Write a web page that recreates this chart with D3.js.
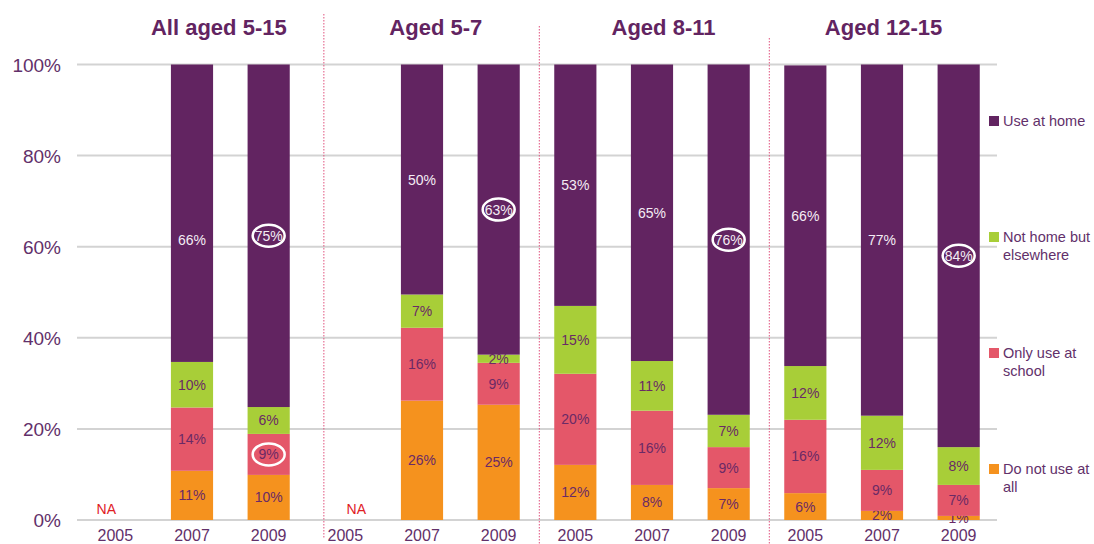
<!DOCTYPE html>
<html>
<head>
<meta charset="utf-8">
<script src="https://cdn.jsdelivr.net/npm/d3@7"></script>
<style>
  body { margin: 0; background: #fff; }
  text { font-family: "Liberation Sans", Arial, sans-serif; }
</style>
</head>
<body>
<div id="chart"></div>
<script>
"use strict"

// group headings and the year of every slot (4 groups x 3 years)
const groups = ["All aged 5-15", "Aged 5-7", "Aged 8-11", "Aged 12-15"];
const years = ["2005", "2007", "2009"];

// segment heights (null = NA)
const doNotUse   = [null, 10.8, 9.9, null, 26.2, 25.3, 12.1, 7.7, 7.0, 5.9, 2.0, 0.9];
const onlySchool = [null, 13.9, 9.0, null, 16.0, 9.2, 20.0, 16.3, 9.0, 16.1, 9.0, 6.8];
const notHome    = [null, 10.0, 5.9, null, 7.3, 1.8, 14.9, 10.9, 7.1, 11.8, 11.9, 8.3];
const useAtHome  = [null, 65.3, 75.2, null, 50.5, 63.7, 53.0, 65.1, 76.9, 66.0, 77.1, 84.0];

// printed labels
const doNotUseLbl   = [null, 11, 10, null, 26, 25, 12, 8, 7, 6, 2, 1];
const onlySchoolLbl = [null, 14, 9, null, 16, 9, 20, 16, 9, 16, 9, 7];
const notHomeLbl    = [null, 10, 6, null, 7, 2, 15, 11, 7, 12, 12, 8];
const useAtHomeLbl  = [null, 66, 75, null, 50, 63, 53, 65, 76, 66, 77, 84];

// labels that are ringed in the picture: [series, slot]
const circled = [["home", 2], ["school", 2], ["home", 5], ["home", 8], ["home", 11]];

const yTicks = [0, 20, 40, 60, 80, 100];

const series = [
    {key: "doNot",  name: ["Do not use at", "all"],        vals: doNotUse,   lbl: doNotUseLbl,   color: "#f5921e", text: "#6a2a66"},
    {key: "school", name: ["Only use at", "school"],       vals: onlySchool, lbl: onlySchoolLbl, color: "#e45769", text: "#6a2a66"},
    {key: "notHome",name: ["Not home but", "elsewhere"],   vals: notHome,    lbl: notHomeLbl,    color: "#a8ce38", text: "#6a2a66"},
    {key: "home",   name: ["Use at home"],                 vals: useAtHome,  lbl: useAtHomeLbl,  color: "#622461", text: "#f4ecf4"}
];

const slots = d3.range(12);

const width = 1094, height = 544;
const purple = "#622461";

const svg = d3.select("#chart").append("svg")
    .attr("width", width)
    .attr("height", height);

const x = d3.scaleBand()
    .domain(slots)
    .range([77, 997])
    .paddingInner(0.45)
    .paddingOuter(0.225);

// slot index -> centre, for things placed between slots
const xi = d3.scaleLinear()
    .domain([0, 11])
    .range([x(0) + x.bandwidth() / 2, x(11) + x.bandwidth() / 2]);

const y = d3.scaleLinear()
    .domain([0, 100])
    .range([520, 64.5]);

// gridlines
svg.append("g")
    .selectAll("line")
    .data(yTicks)
    .enter().append("line")
        .attr("x1", 77)
        .attr("x2", 997)
        .attr("y1", d => y(d))
        .attr("y2", d => y(d))
        .attr("stroke", "#d3d3d3")
        .attr("stroke-width", 2);

// y tick labels
svg.append("g")
    .selectAll("text")
    .data(yTicks)
    .enter().append("text")
        .attr("x", 61)
        .attr("y", d => y(d) + 7)
        .attr("text-anchor", "end")
        .attr("font-size", 19)
        .attr("fill", "#62306a")
        .text(d => d + "%");

// group separators (dotted)
const seps = [{i: 2.72, y0: 14, y1: 538}, {i: 5.53, y0: 26, y1: 544}, {i: 8.53, y0: 38, y1: 544}];
svg.append("g")
    .selectAll("line")
    .data(seps)
    .enter().append("line")
        .attr("x1", d => xi(d.i))
        .attr("x2", d => xi(d.i))
        .attr("y1", d => d.y0)
        .attr("y2", d => d.y1)
        .attr("stroke", "#e0527e")
        .attr("stroke-width", 1)
        .attr("stroke-dasharray", "1.5,1.5");

// group titles
const titlePos = [1.35, 4.18, 7.15, 10.02];
svg.append("g")
    .selectAll("text")
    .data(groups)
    .enter().append("text")
        .attr("x", (d, i) => xi(titlePos[i]))
        .attr("y", 35)
        .attr("text-anchor", "middle")
        .attr("font-size", 22)
        .attr("font-weight", "bold")
        .attr("fill", purple)
        .text(d => d);

// year labels
svg.append("g")
    .selectAll("text")
    .data(slots)
    .enter().append("text")
        .attr("x", d => x(d) + x.bandwidth() / 2)
        .attr("y", 541)
        .attr("text-anchor", "middle")
        .attr("font-size", 16)
        .attr("fill", "#62306a")
        .text(d => years[d % 3]);

// the one label that was moved off the segment centre in the original
const labelNudge = {"home-1": 27};

// stacked bars, each series drawn with its labels so the next one sits on top
const bars = svg.append("g");
const base = slots.map(() => 0);
series.forEach(s => {
    const segs = slots.filter(i => s.vals[i] != null).map(i => {
        const seg = {i: i, y0: base[i], y1: base[i] + s.vals[i], lbl: s.lbl[i]};
        base[i] = seg.y1;
        return seg;
    });
    const mid = d => (y(d.y0) + y(d.y1)) / 2 + (labelNudge[s.key + "-" + d.i] || 0);
    const g = bars.append("g").attr("class", s.key);
    g.selectAll("rect")
        .data(segs)
        .enter().append("rect")
            .attr("x", d => x(d.i))
            .attr("y", d => y(d.y1))
            .attr("width", x.bandwidth())
            .attr("height", d => y(d.y0) - y(d.y1))
            .attr("fill", s.color);
    g.selectAll("text")
        .data(segs)
        .enter().append("text")
            .attr("x", d => x(d.i) + x.bandwidth() / 2)
            .attr("y", d => mid(d) + 5)
            .attr("text-anchor", "middle")
            .attr("font-size", 14)
            .attr("fill", s.text)
            .text(d => d.lbl + "%");
    // rings around highlighted labels
    g.selectAll("ellipse")
        .data(segs.filter(d => circled.some(c => c[0] == s.key && c[1] == d.i)))
        .enter().append("ellipse")
            .attr("cx", d => x(d.i) + x.bandwidth() / 2)
            .attr("cy", d => mid(d))
            .attr("rx", 16)
            .attr("ry", 11)
            .attr("fill", "none")
            .attr("stroke", "#fff")
            .attr("stroke-width", 2.5);
});

// NA markers, a little off the slot centre as in the original
const naShift = [-9, 11];
svg.append("g")
    .selectAll("text")
    .data(slots.filter(i => useAtHome[i] == null))
    .enter().append("text")
        .attr("x", (d, k) => x(d) + x.bandwidth() / 2 + naShift[k])
        .attr("y", 514)
        .attr("text-anchor", "middle")
        .attr("font-size", 14)
        .attr("fill", "#e0201f")
        .text("NA");

// legend, top entry is the top of the stack
const legend = svg.append("g")
    .selectAll("g")
    .data(series.slice().reverse())
    .enter().append("g")
        .attr("transform", (d, i) => `translate(989, ${121 + i * 116})`);

legend.append("rect")
    .attr("x", 0)
    .attr("y", -5)
    .attr("width", 10)
    .attr("height", 10)
    .attr("fill", d => d.color);

legend.selectAll("text")
    .data(d => d.name)
    .enter().append("text")
        .attr("x", 14)
        .attr("y", (d, i) => 5 + i * 18)
        .attr("font-size", 14.5)
        .attr("fill", "#62306a")
        .text(d => d);
</script>
</body>
</html>
